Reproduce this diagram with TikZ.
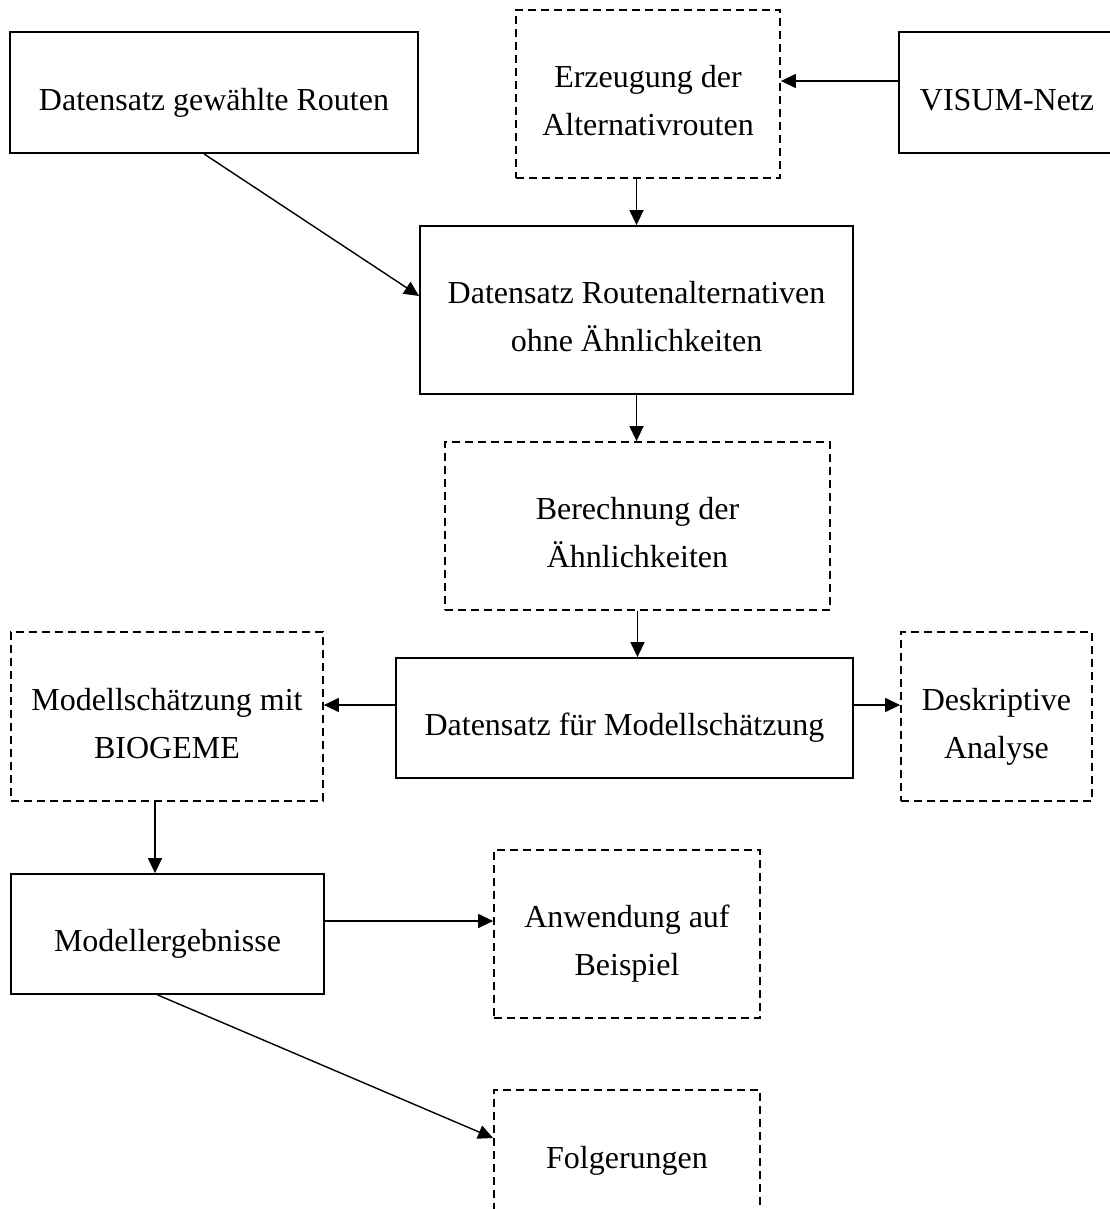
\documentclass[tikz,border=0pt]{standalone}
\usepackage{fontspec}
\setmainfont{Liberation Serif}
\usetikzlibrary{arrows.meta}
\newcommand{\boxtext}[1]{\raisebox{-4pt}[\height][\depth]{\begin{tabular}{@{}c@{}}#1\end{tabular}}}
\begin{document}
\begin{tikzpicture}[x=0.5pt, y=-0.5pt,
    font=\fontsize{16}{24}\selectfont,
    solidbox/.style = {draw, line width=0.9pt, rectangle, inner sep=0pt},
    dashbox/.style = {solidbox, dash pattern=on 4pt off 2.5pt},
    arr/.style = {-{Triangle[length=7.5pt, width=7pt]}, line width=0.7pt}]
    \useasboundingbox (0,0) rectangle (1109,1209);
    \node[solidbox, minimum width=204pt, minimum height=60.5pt] (gewaehlt) at (214,92.5) {\boxtext{Datensatz gewählte Routen}};
    \node[dashbox, minimum width=132pt, minimum height=84pt] (erzeugung) at (648,94) {\boxtext{Erzeugung der\\Alternativrouten}};
    \node[solidbox, minimum width=108pt, minimum height=60.5pt] (visum) at (1007,92.5) {\boxtext{VISUM-Netz}};
    \node[solidbox, minimum width=216.5pt, minimum height=84pt] (routalt) at (636.5,310) {\boxtext{Datensatz Routenalternativen\\ohne Ähnlichkeiten}};
    \node[dashbox, minimum width=192.5pt, minimum height=84pt] (berechnung) at (637.5,526) {\boxtext{Berechnung der\\Ähnlichkeiten}};
    \node[solidbox, minimum width=228.5pt, minimum height=60pt] (datensatz) at (624.5,718) {\boxtext{Datensatz für Modellschätzung}};
    \node[dashbox, minimum width=156pt, minimum height=84.5pt] (schaetzung) at (167,716.5) {\boxtext{Modellschätzung mit\\BIOGEME}};
    \node[dashbox, minimum width=95.5pt, minimum height=84.5pt] (deskriptiv) at (996.5,716.5) {\boxtext{Deskriptive\\Analyse}};
    \node[solidbox, minimum width=156.5pt, minimum height=60pt] (ergebnisse) at (167.5,934) {\boxtext{Modellergebnisse}};
    \node[dashbox, minimum width=133pt, minimum height=84pt] (anwendung) at (627,934) {\boxtext{Anwendung auf\\Beispiel}};
    \node[dashbox, minimum width=133pt, minimum height=61pt] (folgerungen) at (627,1151) {\boxtext{Folgerungen}};
    \draw[arr] ([yshift=5.75pt]visum.west) -- ([yshift=5.75pt]visum.west -| erzeugung.east);
    \draw[arr] (routalt.north |- erzeugung.south) -- (routalt.north);
    \draw[arr] ([xshift=-5pt]gewaehlt.south) -- ([yshift=7pt]routalt.west);
    \draw[arr] (routalt.south) -- (routalt.south |- berechnung.north);
    \draw[arr] (berechnung.south) -- (berechnung.south |- datensatz.north);
    \draw[arr] ([yshift=6.5pt]datensatz.west) -- ([yshift=6.5pt]datensatz.west -| schaetzung.east);
    \draw[arr] ([yshift=6.5pt]datensatz.east) -- ([yshift=6.5pt]datensatz.east -| deskriptiv.west);
    \draw[arr] ([xshift=-6pt]schaetzung.south) -- ([xshift=-6pt]schaetzung.south |- ergebnisse.north);
    \draw[arr] ([yshift=6.5pt]ergebnisse.east) -- ([yshift=6.5pt]ergebnisse.east -| anwendung.west);
    \draw[arr] ([xshift=-5pt]ergebnisse.south) -- ([yshift=6.5pt]folgerungen.west);
\end{tikzpicture}
\end{document}
